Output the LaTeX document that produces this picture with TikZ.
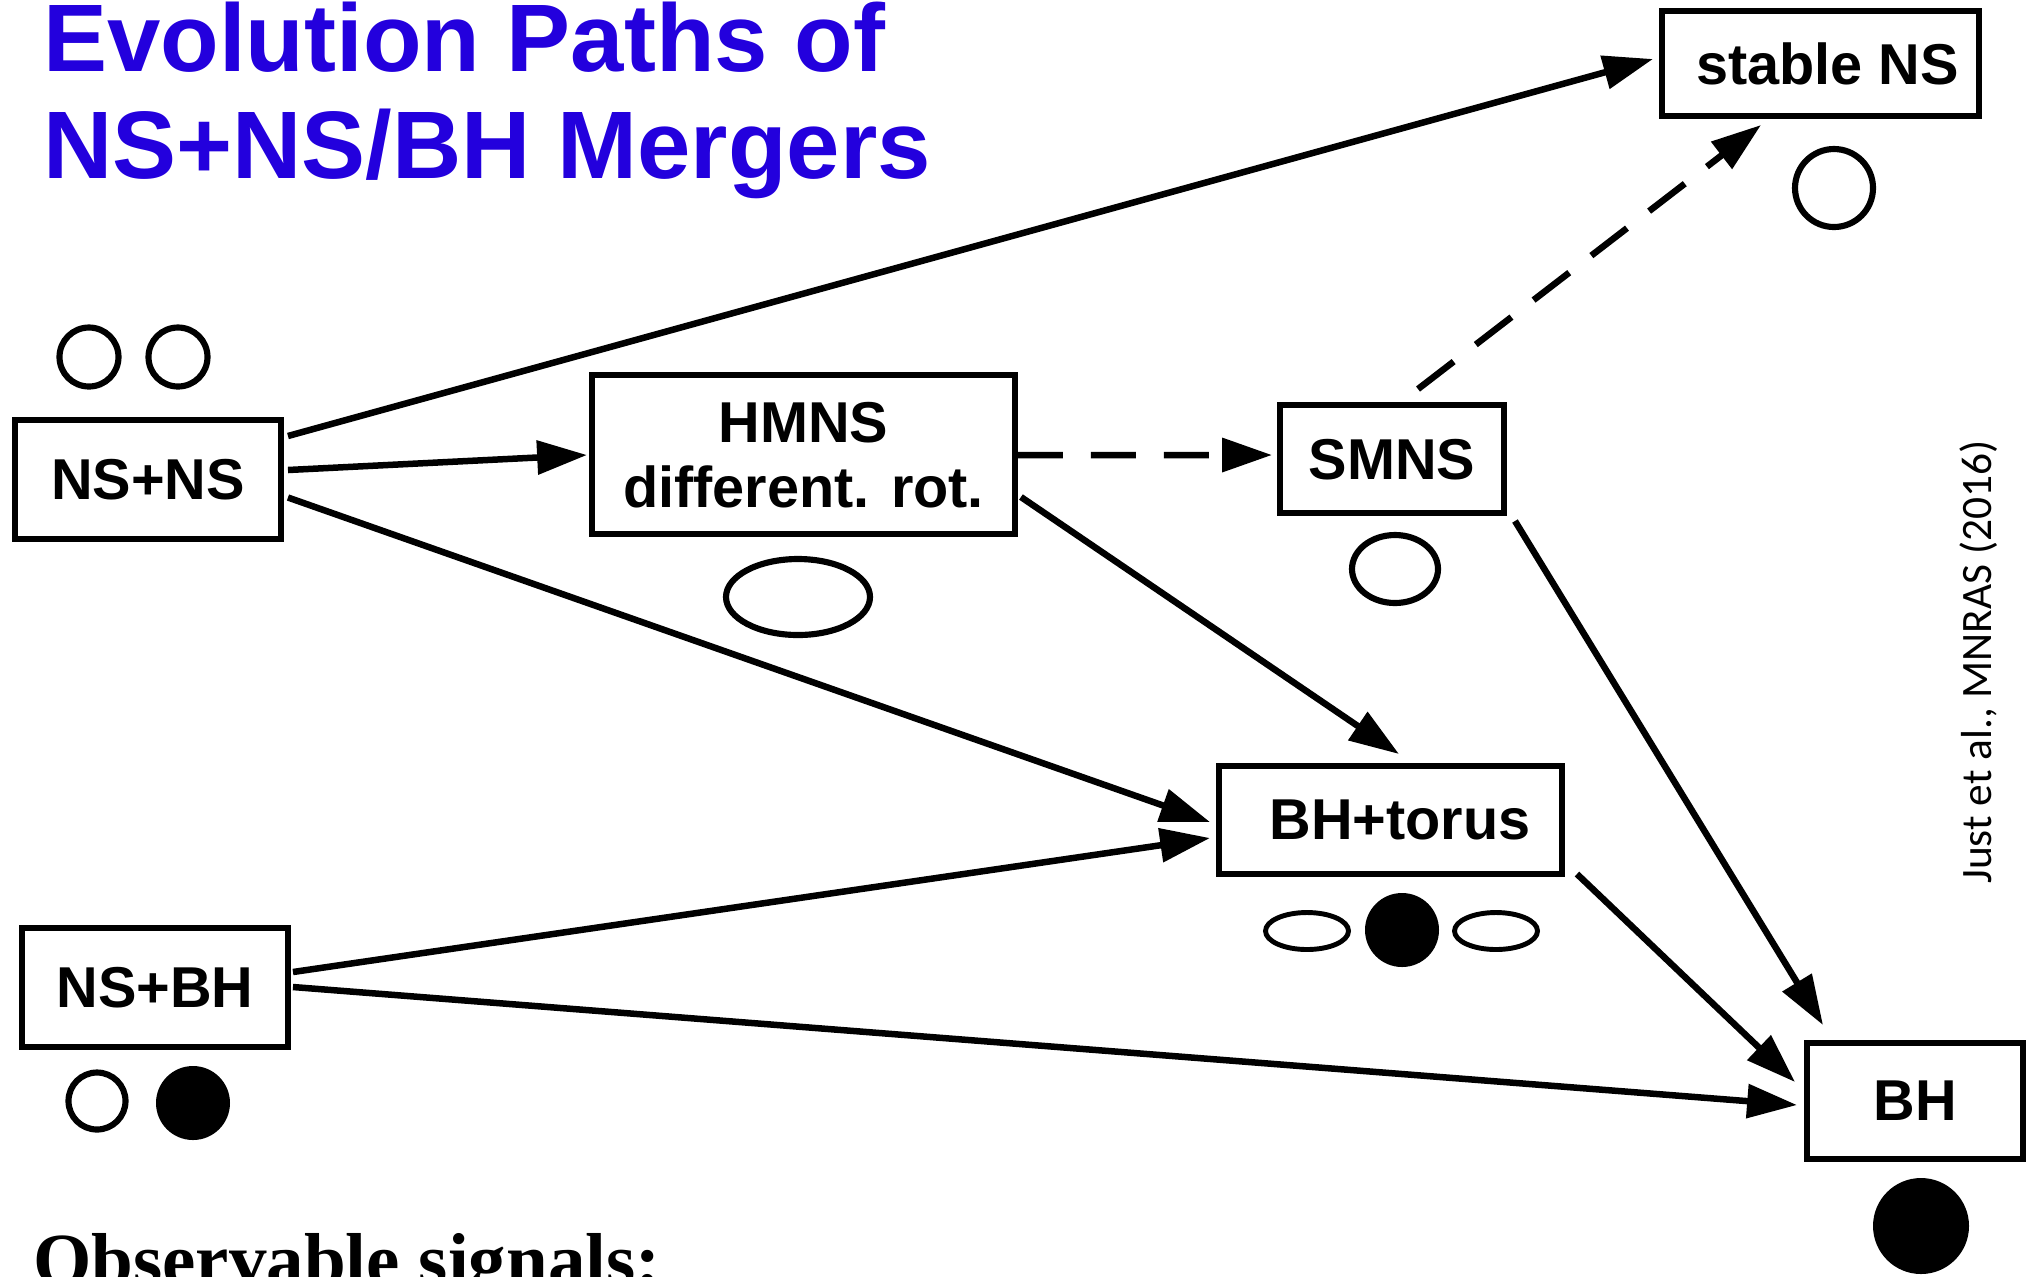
\documentclass[tikz,border=0pt]{standalone}
\usepackage{fontspec}
\setmainfont{Liberation Sans}
\newfontfamily\seriff{Liberation Serif}
\newfontfamily\calibf{Carlito}
\usetikzlibrary{arrows.meta,calc}
\definecolor{titleblue}{RGB}{35,0,221}

\begin{document}
\begin{tikzpicture}[x=0.02cm,y=-0.02cm,
  box/.style={draw, line width=3.8pt, outer sep=0pt, inner sep=0pt,
    font=\bfseries\fontsize{32.8}{37}\selectfont, align=center, text depth=-0.12cm},
  conn/.style={line width=3.7pt, -{Triangle[length=28.4pt,width=18.8pt]}},
  dashconn/.style={conn, dash pattern=on 25.6pt off 15.9pt},
  ring/.style={draw, line width=3.5pt},
  thinring/.style={draw, line width=2.8pt},
  dot/.style={fill=black},
  titletext/.style={anchor=base west, inner sep=0pt, text=titleblue,
    font=\bfseries\fontsize{54.6}{60}\selectfont},
]
\useasboundingbox (0,0) rectangle (2027,1276);

% title
\node[titletext] (title1) at (43,71) {Evolution Paths of};
\node[titletext] (title2) at (43,178) {NS+NS/BH Mergers};

% boxes
\node[box, minimum width=5.32cm, minimum height=2.38cm] (nsns) at (148,479.5) {NS+NS};
\node[box, minimum width=8.46cm, minimum height=3.18cm] (hmns) at (803.5,454.5) {HMNS\\different. rot.};
\node[box, minimum width=4.48cm, minimum height=2.16cm] (smns) at (1392,459) {SMNS};
\node[box, minimum width=6.34cm, minimum height=2.1cm] (stable) at (1820.5,63.5) {\hspace*{0.28cm}stable NS};
\node[box, minimum width=6.86cm, minimum height=2.16cm] (torus) at (1390.5,820) {\hspace*{0.38cm}BH+torus};
\node[box, minimum width=5.32cm, minimum height=2.38cm] (nsbh) at (155,987.5) {NS+BH};
\node[box, minimum width=4.32cm, minimum height=2.32cm] (bh) at (1915,1101) {BH};

% symbols
\draw[ring] (89,357) circle[radius=29.5];
\draw[ring] (178,357) circle[radius=29.5];
\draw[ring] (798,597) ellipse[x radius=72, y radius=38];
\draw[ring] (1395,569) ellipse[x radius=43, y radius=34];
\draw[ring] (1834,188) circle[radius=39];
\draw[thinring] (1307,931) ellipse[x radius=41.5, y radius=18.5];
\fill (1402,930) circle[radius=37];
\draw[thinring] (1496,931) ellipse[x radius=41.5, y radius=18.5];
\draw[ring] (97,1101) circle[radius=28.5];
\fill (193,1103) circle[radius=37];
\fill (1921,1226) circle[radius=48];

% connectors
\draw[conn] ($(nsns.east)+(7,-43.5)$) -- ($(stable.west)+(-9,-4.5)$);
\draw[conn] ($(nsns.east)+(7,-9.5)$) -- ($(hmns.west)+(-5,0.5)$);
\draw[conn] ($(nsns.east)+(7,18)$) -- ($(torus.west)+(-9,2)$);
\draw[conn] ($(nsbh.east)+(5,-15.5)$) -- ($(torus.west)+(-9,18)$);
\draw[conn] ($(nsbh.east)+(5,-0.5)$) -- ($(bh.west)+(-10,4)$);
\draw[dashconn] ($(hmns.east)+(3,0.5)$) -- ($(smns.west)+(-8,-4)$);
\draw[conn] ($(hmns.east)+(6,42.5)$) -- ($(torus.north)+(8.5,-12)$);
\draw[dashconn] ($(smns.north)+(26,-16)$) -- ($(stable.south)+(-59.5,9)$);
\draw[conn] ($(smns.east)+(11,62)$) -- ($(bh.north)+(-92,-18)$);
\draw[conn] ($(torus.east)+(15,54)$) -- ($(bh.west)+(-12,-19)$);

% credit and bottom text
\node[rotate=90, anchor=base, inner sep=0pt, font=\calibf\fontsize{24.7}{30}\selectfont] (cite) at (1991,662) {Just et al., MNRAS (2016)};
\node[anchor=base west, inner sep=0pt, font=\seriff\bfseries\fontsize{42.7}{48}\selectfont] (obs) at (33,1285) {Observable signals:};
\end{tikzpicture}
\end{document}
